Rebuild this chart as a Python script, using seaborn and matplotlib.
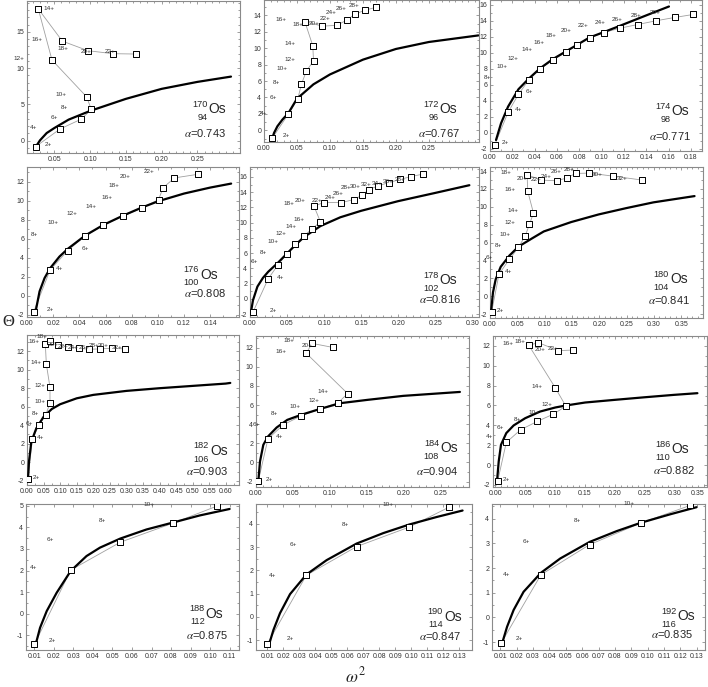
import matplotlib
matplotlib.use("Agg")
import numpy as np
import matplotlib.pyplot as plt
from matplotlib.ticker import MultipleLocator, AutoMinorLocator, FormatStrFormatter
import seaborn as sns

# theta vs omega^2 for the Os isotopes
# each panel: measured points (spin order 2+,4+,...), label spots, fitted curve

os170_w2 = [0.0239, 0.0579, 0.0877, 0.1017, 0.0952, 0.0467, 0.0276, 0.0612, 0.0971, 0.1316, 0.1642]
os170_th = [-0.82, 1.60, 2.97, 4.30, 6.04, 11.12, 18.16, 13.72, 12.40, 11.99, 11.94]
os170_lab_w2 = [0.0421, 0.0202, 0.0495, 0.0640, 0.0593, 0.0003, 0.0425, 0.0253, 0.0617, 0.0942, 0.1277]
os170_lab_th = [-0.50, 1.88, 3.25, 4.57, 6.31, 11.39, 18.16, 13.95, 12.72, 12.26, 12.26]
os170_fit_w2 = [0.0239, 0.030, 0.0393, 0.050, 0.070, 0.100, 0.150, 0.200, 0.250, 0.297]
os170_fit_th = [-0.87, 0.05, 1.05, 1.74, 2.90, 4.10, 5.76, 7.14, 8.10, 8.83]

os172_w2 = [0.0127, 0.037, 0.0512, 0.0568, 0.0644, 0.0751, 0.074, 0.0619, 0.0887, 0.1106, 0.1253, 0.1374, 0.1531, 0.1704]
os172_th = [-0.93, 1.98, 3.81, 5.63, 7.25, 8.42, 10.28, 13.24, 12.67, 12.79, 13.40, 14.13, 14.62, 14.98]
os172_lab_w2 = [0.0345, 0.0, 0.0142, 0.0188, 0.0269, 0.039, 0.039, 0.0259, 0.0517, 0.0761, 0.0928, 0.1014, 0.1177, 0.136]
os172_lab_th = [-0.65, 2.10, 4.01, 5.83, 7.49, 8.66, 10.53, 13.52, 12.91, 12.96, 13.64, 14.33, 14.86, 15.22]
os172_fit_w2 = [0.0127, 0.0152, 0.0203, 0.0279, 0.037, 0.050, 0.075, 0.100, 0.150, 0.200, 0.250, 0.325]
os172_fit_th = [-0.93, -0.32, 0.49, 1.30, 2.10, 3.85, 5.60, 6.80, 8.60, 9.90, 10.75, 11.55]

os174_w2 = [0.0042, 0.0162, 0.0255, 0.0348, 0.045, 0.0562, 0.0679, 0.0784, 0.0892, 0.1018, 0.1165, 0.1324, 0.1486, 0.1655, 0.182]
os174_th = [-1.50, 2.58, 4.83, 6.63, 8.00, 9.08, 10.08, 11.04, 11.88, 12.54, 13.08, 13.54, 14.00, 14.42, 14.79]
os174_lab_w2 = [0.0135, 0.0255, 0.0354, -0.0021, 0.0105, 0.0207, 0.033, 0.0435, 0.0543, 0.0679, 0.0832, 0.0985, 0.1138, 0.1309, 0.1483]
os174_lab_th = [-1.21, 2.88, 5.13, 6.92, 8.29, 9.33, 10.38, 11.29, 12.13, 12.83, 13.42, 13.79, 14.21, 14.71, 15.04]
os174_fit_w2 = [0.0054, 0.0099, 0.0162, 0.0255, 0.0348, 0.045, 0.0562, 0.0679, 0.0892, 0.1018, 0.1165, 0.1324, 0.1486, 0.1604]
os174_fit_th = [-0.88, 1.21, 3.29, 5.46, 6.79, 8.08, 9.21, 10.17, 11.92, 12.58, 13.38, 14.26, 15.15, 15.79]

os176_w2 = [0.0051, 0.0177, 0.0311, 0.0443, 0.0582, 0.0732, 0.0878, 0.1005, 0.1041, 0.1127, 0.1306]
os176_th = [-1.68, 2.73, 4.76, 6.30, 7.42, 8.40, 9.24, 10.15, 11.41, 12.43, 12.81]
os176_lab_w2 = [0.0175, 0.0251, 0.0446, 0.0053, 0.0197, 0.0344, 0.0491, 0.061, 0.0666, 0.0752, 0.093]
os176_lab_th = [-1.40, 2.91, 4.94, 6.44, 7.70, 8.65, 9.42, 10.36, 11.66, 12.60, 13.06]
os176_fit_w2 = [0.0066, 0.0096, 0.0134, 0.0177, 0.0248, 0.0311, 0.0443, 0.0582, 0.0732, 0.0878, 0.1005, 0.12, 0.14, 0.156]
os176_fit_th = [-1.65, 0.46, 1.86, 2.91, 4.13, 4.94, 6.34, 7.46, 8.44, 9.31, 9.98, 10.78, 11.41, 11.83]

os178_w2 = [0.004, 0.0246, 0.0379, 0.050, 0.0612, 0.0728, 0.0839, 0.0951, 0.0862, 0.100, 0.1232, 0.1402, 0.1513, 0.1603, 0.1728, 0.1875, 0.2022, 0.2174, 0.233]
os178_th = [-1.75, 2.63, 4.47, 5.92, 7.15, 8.25, 9.21, 10.09, 12.19, 12.63, 12.63, 13.03, 13.60, 14.34, 14.82, 15.26, 15.66, 16.05, 16.36]
os178_lab_w2 = [0.0313, 0.0406, 0.0058, 0.0183, 0.0304, 0.0415, 0.0549, 0.0661, 0.0527, 0.0683, 0.0911, 0.1076, 0.1196, 0.1299, 0.142, 0.1567, 0.1723, 0.1866, 0.2022]
os178_lab_th = [-1.49, 2.85, 4.91, 6.05, 7.46, 8.55, 9.43, 10.39, 12.54, 12.89, 12.89, 13.25, 13.82, 14.56, 14.78, 15.04, 15.09, 15.35, 15.61]
os178_fit_w2 = [0.0013, 0.004, 0.010, 0.0175, 0.0246, 0.0379, 0.050, 0.0612, 0.0728, 0.0951, 0.1219, 0.150, 0.1996, 0.2482, 0.296]
os178_fit_th = [-1.75, -0.2, 1.6, 2.75, 3.55, 4.75, 5.95, 7.05, 8.1, 9.55, 10.7, 11.55, 12.81, 13.86, 14.91]

os180_w2 = [0.003, 0.0165, 0.0355, 0.052, 0.0643, 0.0722, 0.0796, 0.0692, 0.0679, 0.0942, 0.1218, 0.1401, 0.1567, 0.1818, 0.2252, 0.2785]
os180_th = [-1.75, 2.49, 4.13, 5.47, 6.73, 8.04, 9.30, 11.72, 13.58, 12.99, 12.91, 13.21, 13.73, 13.77, 13.43, 12.99]
os180_lab_w2 = [0.0196, 0.0337, -0.0006, 0.0153, 0.0275, 0.0361, 0.0428, 0.0361, 0.030, 0.0594, 0.0839, 0.1034, 0.1218, 0.1451, 0.1958, 0.2429]
os180_lab_th = [-1.53, 2.72, 4.35, 5.66, 6.96, 8.26, 9.56, 11.94, 13.80, 13.21, 13.06, 13.43, 13.99, 14.14, 13.62, 13.21]
os180_fit_w2 = [0.0018, 0.0055, 0.0104, 0.0196, 0.0355, 0.052, 0.0777, 0.0985, 0.1487, 0.1989, 0.249, 0.2993, 0.3745]
os180_fit_th = [-1.75, 0.45, 1.90, 3.30, 4.55, 5.55, 6.50, 7.25, 8.30, 9.15, 9.85, 10.50, 11.20]

os182_w2 = [0.003, 0.0161, 0.0362, 0.0563, 0.0694, 0.0694, 0.0584, 0.0553, 0.0704, 0.0946, 0.1247, 0.1559, 0.1881, 0.2203, 0.2555, 0.2958]
os182_th = [-1.83, 2.48, 4.03, 5.11, 6.37, 8.09, 10.58, 12.77, 13.13, 12.66, 12.45, 12.30, 12.19, 12.23, 12.30, 12.23]
os182_lab_w2 = [0.0282, 0.0413, 0.008, 0.0252, 0.0382, 0.0382, 0.0282, 0.0200, 0.0440, 0.0785, 0.1087, 0.1408, 0.171, 0.2012, 0.2314, 0.2716]
os182_lab_th = [-1.65, 2.66, 4.17, 5.29, 6.55, 8.27, 10.76, 13.00, 13.55, 12.66, 12.48, 12.37, 12.41, 12.55, 12.55, 12.37]
os182_fit_w2 = [0.003, 0.006, 0.0131, 0.0282, 0.050, 0.075, 0.100, 0.150, 0.200, 0.300, 0.400, 0.500, 0.600, 0.6137]
os182_fit_th = [-1.83, 0.07, 2.23, 3.67, 4.90, 5.75, 6.26, 6.90, 7.27, 7.70, 7.99, 8.24, 8.49, 8.56]

os184_w2 = [0.0032, 0.0162, 0.0369, 0.0608, 0.0869, 0.1113, 0.1239, 0.068, 0.0757, 0.1036]
os184_th = [-1.91, 2.47, 3.93, 4.87, 5.60, 6.26, 7.20, 11.41, 12.45, 12.03]
os184_lab_w2 = [0.018, 0.0324, 0.0009, 0.0248, 0.0527, 0.0784, 0.091, 0.0338, 0.045, 0.0685]
os184_lab_th = [-1.74, 2.71, 4.00, 5.08, 5.84, 6.47, 7.41, 11.65, 12.70, 12.20]
os184_fit_w2 = [0.0032, 0.0054, 0.0099, 0.0162, 0.0279, 0.0423, 0.0608, 0.0869, 0.1135, 0.1505, 0.1991, 0.2495, 0.2757]
os184_fit_th = [-1.91, 0.10, 1.84, 2.71, 3.65, 4.45, 4.97, 5.60, 6.19, 6.54, 6.96, 7.23, 7.37]

os186_w2 = [0.004, 0.0183, 0.0422, 0.070, 0.0972, 0.1183, 0.1006, 0.0561, 0.0722, 0.1056, 0.1306]
os186_th = [-1.57, 2.28, 3.55, 4.39, 5.13, 5.93, 7.77, 12.06, 12.33, 11.52, 11.59]
os186_lab_w2 = [0.0183, -0.0094, 0.0083, 0.0361, 0.065, 0.0872, 0.0694, 0.0211, 0.0406, 0.0744, 0.0972]
os186_lab_th = [-1.41, 2.88, 3.79, 4.56, 5.33, 6.10, 7.91, 12.26, 12.43, 11.66, 11.76]
os186_fit_w2 = [0.0028, 0.0056, 0.0094, 0.0183, 0.0306, 0.050, 0.075, 0.1006, 0.1183, 0.1506, 0.2006, 0.2506, 0.2994, 0.3389]
os186_fit_th = [-1.57, 0.37, 2.04, 3.22, 3.99, 4.72, 5.39, 5.80, 6.00, 6.30, 6.57, 6.83, 7.07, 7.24]

os188_w2 = [0.010, 0.0286, 0.054, 0.0809, 0.1037]
os188_th = [-1.42, 2.02, 3.31, 4.19, 4.99]
os188_lab_w2 = [0.0194, 0.0095, 0.018, 0.0449, 0.0688]
os188_lab_th = [-1.24, 2.13, 3.42, 4.30, 5.07]
os188_fit_w2 = [0.0109, 0.0129, 0.0163, 0.0214, 0.0286, 0.0367, 0.0436, 0.054, 0.0674, 0.0809, 0.0947, 0.110]
os188_fit_th = [-1.34, -0.65, 0.12, 0.97, 1.98, 2.67, 3.06, 3.48, 3.90, 4.22, 4.55, 4.85]

os190_w2 = [0.0098, 0.0344, 0.0658, 0.0988, 0.1238]
os190_th = [-1.18, 1.79, 3.02, 3.86, 4.72]
os190_lab_w2 = [0.0246, 0.0133, 0.0263, 0.0588, 0.0852]
os190_lab_th = [-0.91, 1.79, 3.10, 3.96, 4.81]
os190_fit_w2 = [0.0113, 0.0138, 0.0179, 0.0242, 0.0344, 0.0471, 0.0658, 0.0825, 0.0988, 0.1158, 0.1321]
os190_fit_th = [-1.13, -0.56, 0.16, 0.98, 1.82, 2.44, 3.15, 3.60, 3.97, 4.29, 4.57]

os192_w2 = [0.0104, 0.0348, 0.0645, 0.0959, 0.1259]
os192_th = [-1.05, 1.73, 2.95, 3.83, 4.54]
os192_lab_w2 = [0.0218, 0.0137, 0.0259, 0.0568, 0.0884]
os192_lab_th = [-0.85, 1.75, 3.06, 3.94, 4.60]
os192_fit_w2 = [0.0114, 0.0141, 0.0181, 0.0242, 0.0348, 0.0466, 0.0645, 0.0811, 0.0959, 0.1137, 0.1299]
os192_fit_th = [-0.98, -0.38, 0.30, 1.04, 1.81, 2.39, 3.06, 3.50, 3.84, 4.18, 4.47]

masses = [170, 172, 174, 176, 178, 180, 182, 184, 186, 188, 190, 192]
protons_z = [94, 96, 98, 100, 102, 104, 106, 108, 110, 112, 114, 116]
alphas = ["0.743", "0.767", "0.771", "0.808", "0.816", "0.841", "0.903", "0.904", "0.882", "0.875", "0.847", "0.835"]

dados = {
    170: (os170_w2, os170_th, os170_lab_w2, os170_lab_th, os170_fit_w2, os170_fit_th),
    172: (os172_w2, os172_th, os172_lab_w2, os172_lab_th, os172_fit_w2, os172_fit_th),
    174: (os174_w2, os174_th, os174_lab_w2, os174_lab_th, os174_fit_w2, os174_fit_th),
    176: (os176_w2, os176_th, os176_lab_w2, os176_lab_th, os176_fit_w2, os176_fit_th),
    178: (os178_w2, os178_th, os178_lab_w2, os178_lab_th, os178_fit_w2, os178_fit_th),
    180: (os180_w2, os180_th, os180_lab_w2, os180_lab_th, os180_fit_w2, os180_fit_th),
    182: (os182_w2, os182_th, os182_lab_w2, os182_lab_th, os182_fit_w2, os182_fit_th),
    184: (os184_w2, os184_th, os184_lab_w2, os184_lab_th, os184_fit_w2, os184_fit_th),
    186: (os186_w2, os186_th, os186_lab_w2, os186_lab_th, os186_fit_w2, os186_fit_th),
    188: (os188_w2, os188_th, os188_lab_w2, os188_lab_th, os188_fit_w2, os188_fit_th),
    190: (os190_w2, os190_th, os190_lab_w2, os190_lab_th, os190_fit_w2, os190_fit_th),
    192: (os192_w2, os192_th, os192_lab_w2, os192_lab_th, os192_fit_w2, os192_fit_th),
}

# layout: box in pixels (left, top, right, bottom), limits, tick range/steps, text spots
layout = {
    170: dict(box=(27, 1, 240, 153), xlim=(0.0118, 0.3096), ylim=(-1.7, 19.25), xt=(0.05, 0.25), xs=0.05, xm=5, ys=5, ym=5, os=(0.851, 0.261), al=(0.836, 0.107)),
    172: dict(box=(264, 0, 479, 142), xlim=(0.0, 0.326), ylim=(-1.42, 15.86), xt=(0.0, 0.25), xs=0.05, xm=5, ys=2, ym=2, os=(0.815, 0.202), al=(0.812, 0.037)),
    174: dict(box=(490, 0, 702, 151), xlim=(0.0, 0.19), ylim=(-2.25, 16.6), xt=(0.0, 0.18), xs=0.02, xm=2, ys=2, ym=2, os=(0.857, 0.238), al=(0.849, 0.073)),
    176: dict(box=(27, 167, 239, 317), xlim=(0.0008, 0.162), ylim=(-2.24, 13.58), xt=(0.0, 0.14), xs=0.02, xm=2, ys=2, ym=2, os=(0.816, 0.255), al=(0.84, 0.135)),
    178: dict(box=(250, 167, 479, 317), xlim=(0.0, 0.309), ylim=(-2.39, 17.3), xt=(0.0, 0.30), xs=0.05, xm=5, ys=2, ym=2, os=(0.827, 0.218), al=(0.831, 0.091)),
    180: dict(box=(490, 167, 703, 318), xlim=(0.0, 0.39), ylim=(-2.42, 14.45), xt=(0.0, 0.35), xs=0.05, xm=5, ys=2, ym=2, os=(0.845, 0.23), al=(0.84, 0.091)),
    182: dict(box=(27, 335, 239, 485), xlim=(0.0, 0.64), ylim=(-2.45, 13.73), xt=(0.0, 0.60), xs=0.05, xm=2, ys=2, ym=2, os=(0.863, 0.2), al=(0.85, 0.067)),
    184: dict(box=(256, 336, 469, 487), xlim=(0.0, 0.288), ylim=(-2.57, 13.22), xt=(0.0, 0.25), xs=0.05, xm=5, ys=2, ym=2, os=(0.864, 0.23), al=(0.852, 0.079)),
    186: dict(box=(493, 336, 707, 487), xlim=(-0.004, 0.355), ylim=(-2.21, 13.0), xt=(0.0, 0.35), xs=0.05, xm=5, ys=2, ym=2, os=(0.833, 0.223), al=(0.844, 0.084)),
    188: dict(box=(26, 504, 239, 650), xlim=(0.0057, 0.1148), ylim=(-1.68, 5.08), xt=(0.01, 0.11), xs=0.01, xm=1, ys=1, ym=2, os=(0.844, 0.222), al=(0.848, 0.075)),
    190: dict(box=(256, 504, 472, 650), xlim=(0.0029, 0.138), ylim=(-1.42, 4.85), xt=(0.01, 0.13), xs=0.01, xm=1, ys=1, ym=2, os=(0.87, 0.2), al=(0.852, 0.068)),
    192: dict(box=(492, 504, 705, 650), xlim=(0.0049, 0.1351), ylim=(-1.32, 4.6), xt=(0.01, 0.13), xs=0.01, xm=1, ys=1, ym=2, os=(0.87, 0.205), al=(0.847, 0.081)),
}

sns.set_theme(style="ticks")
plt.rcParams['font.family'] = ['Liberation Sans', 'DejaVu Sans']
plt.rcParams['mathtext.fontset'] = 'stix'
plt.rcParams['axes.unicode_minus'] = False

W, H = 708, 687
fig = plt.figure(figsize=(W / 100, H / 100), dpi=100)

for a, z, alf in zip(masses, protons_z, alphas):
    w2, th, lw2, lth, fw2, fth = dados[a]
    lay = layout[a]
    l, t, r, b = lay['box']
    ax = fig.add_axes([l / W, 1 - b / H, (r - l) / W, (b - t) / H])

    # linha fina ligando os pontos na ordem dos spins
    sns.lineplot(x=w2, y=th, sort=False, estimator=None, ax=ax, color='#a0a0a0', lw=0.6, zorder=2)
    # curva ajustada
    sns.lineplot(x=fw2, y=fth, sort=False, estimator=None, ax=ax, color='black', lw=1.6, zorder=3)
    sns.scatterplot(x=w2, y=th, marker='s', s=14, facecolor='white', edgecolor='black', linewidth=0.7, ax=ax, zorder=4)

    for i, (lx, ly) in enumerate(zip(lw2, lth)):
        ax.text(lx, ly, f"{2 * (i + 1)}+", fontsize=4.6, color='#333333', ha='center', va='center', clip_on=False, zorder=5)

    ox, oy = lay['os']
    ax.text(ox, oy, 'Os', transform=ax.transAxes, fontsize=10, ha='left', va='baseline')
    ax.annotate(str(a), xy=(ox, oy), xycoords='axes fraction', xytext=(-0.7, 4.7), textcoords='offset points', ha='right', va='baseline', fontsize=6.6)
    ax.annotate(str(z), xy=(ox, oy), xycoords='axes fraction', xytext=(-0.7, -4.8), textcoords='offset points', ha='right', va='baseline', fontsize=6.6)
    axx, axy = lay['al']
    ax.text(axx, axy, r'$\alpha$=' + alf, transform=ax.transAxes, fontsize=8, ha='center', va='baseline')

    ax.set_xlim(*lay['xlim'])
    ax.set_ylim(*lay['ylim'])
    x0, x1 = lay['xt']
    ax.set_xticks(np.round(np.arange(x0, x1 + lay['xs'] / 2, lay['xs']), 3))
    ax.yaxis.set_major_locator(MultipleLocator(lay['ys']))
    if lay['xm'] > 1:
        ax.xaxis.set_minor_locator(AutoMinorLocator(lay['xm']))
    ax.yaxis.set_minor_locator(AutoMinorLocator(lay['ym']))
    ax.xaxis.set_major_formatter(FormatStrFormatter('%.2f'))
    ax.yaxis.set_major_formatter(FormatStrFormatter('%d'))
    ax.tick_params(which='both', direction='in', top=True, right=True, color='#777777', width=0.5, labelsize=5, labelcolor='#333333', pad=2)
    ax.tick_params(which='major', length=2.5)
    ax.tick_params(which='minor', length=1.5)
    for sp in ax.spines.values():
        sp.set_color('#8a8a8a')
        sp.set_linewidth(0.8)
    ax.set_xlabel('')
    ax.set_ylabel('')
    if a == 186:
        # o ultimo rotulo fica colado na borda da figura
        ax.get_xticklabels()[-1].set_horizontalalignment('right')

fig.text(8 / W, 1 - 322 / H, 'Θ', fontsize=12, family=['Liberation Serif', 'DejaVu Serif'], ha='center', va='center')
fig.text(355 / W, 1 - 675 / H, r'$\omega^2$', fontsize=12.5, ha='center', va='center')

fig.savefig('out.png', dpi=100)
